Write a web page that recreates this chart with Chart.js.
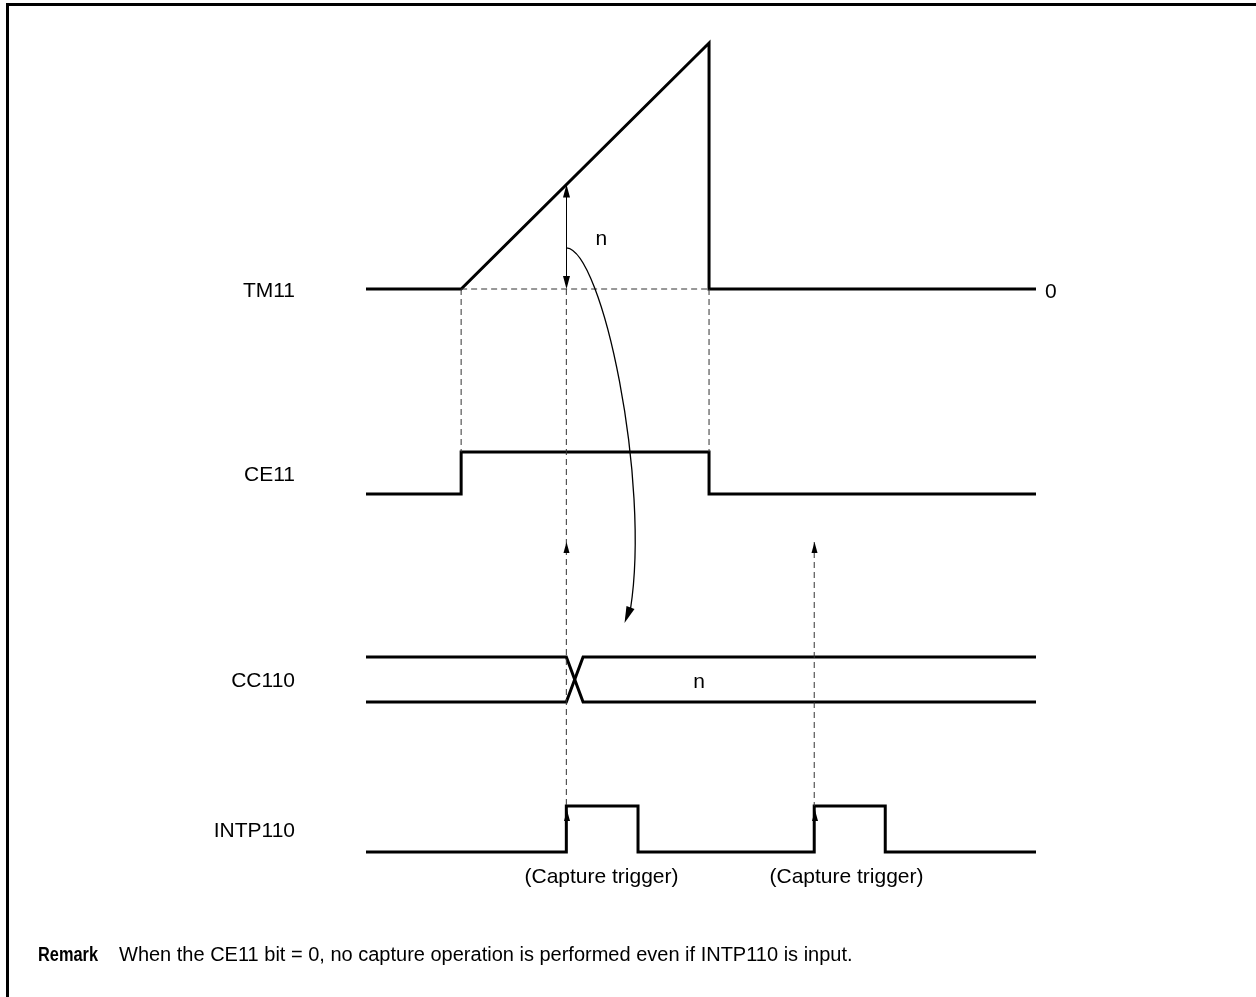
<!DOCTYPE html>
<html>
<head>
<meta charset="utf-8">
<script src="https://cdn.jsdelivr.net/npm/chart.js@4/dist/chart.umd.min.js"></script>
<style>
  html, body { margin: 0; padding: 0; background: #fff; overflow: hidden; }
  canvas { display: block; }
</style>
</head>
<body>
<canvas id="timing" width="1256" height="997"></canvas>
<script>
// signal names and transitions (time in timer clocks, level 0/1)
const signalNames = ["TM11", "CE11", "CC110", "INTP110"];

const tm11Time = [0, 14.2, 51.2, 51.2, 100];
const tm11Level = [0, 0, 1, 0, 0];

const ce11Time = [0, 14.2, 14.2, 51.2, 51.2, 100];
const ce11Level = [0, 0, 1, 1, 0, 0];

const cc110Time = [0, 29.9, 32.4, 100];
const cc110LevelA = [1, 1, 0, 0];
const cc110LevelB = [0, 0, 1, 1];

const intpTime = [0, 29.9, 29.9, 40.6, 40.6, 66.9, 66.9, 77.5, 77.5, 100];
const intpLevel = [0, 0, 1, 1, 0, 0, 1, 1, 0, 0];

const captureTimes = [29.9, 66.9];
const captureLabel = "(Capture trigger)";
const capturedValue = "n";
const zeroLabel = "0";
const remarkHead = "Remark";
const remarkText = "When the CE11 bit = 0, no capture operation is performed even if INTP110 is input.";

// row layout on the y axis (pixel units)
const rows = {
  TM11: { base: 289, amp: 246 },
  CE11: { base: 494, amp: 42 },
  CC110: { base: 702, amp: 45 },
  INTP110: { base: 852, amp: 46 }
};
const FONT = '"Liberation Sans", Arial, Helvetica, sans-serif';

function trace(ts, vs, row) {
  return ts.map(function (t, i) { return { x: t, y: row.base - vs[i] * row.amp }; });
}

function sig(data) {
  return { data: data, borderColor: "#000", borderWidth: 3, pointRadius: 0,
           borderJoinStyle: "miter", fill: false, tension: 0 };
}
function guide(data) {
  return { data: data, borderColor: "#333", borderWidth: 1, borderDash: [6, 4],
           pointRadius: 0, fill: false, tension: 0 };
}

var tmTop = rows.TM11.base;
var ceHigh = rows.CE11.base - rows.CE11.amp;
var intpHigh = rows.INTP110.base - rows.INTP110.amp;
var triggerArrowY = 542;

var datasets = [
  guide([{ x: tm11Time[1], y: tmTop }, { x: tm11Time[2], y: tmTop }]),
  guide([{ x: tm11Time[1], y: tmTop }, { x: tm11Time[1], y: ceHigh }]),
  guide([{ x: tm11Time[2], y: tmTop }, { x: tm11Time[2], y: ceHigh }]),
  guide([{ x: captureTimes[0], y: tmTop }, { x: captureTimes[0], y: intpHigh }]),
  guide([{ x: captureTimes[1], y: triggerArrowY }, { x: captureTimes[1], y: intpHigh }]),
  sig(trace(tm11Time, tm11Level, rows.TM11)),
  sig(trace(ce11Time, ce11Level, rows.CE11)),
  sig(trace(cc110Time, cc110LevelA, rows.CC110)),
  sig(trace(cc110Time, cc110LevelB, rows.CC110)),
  sig(trace(intpTime, intpLevel, rows.INTP110))
];

function head(ctx, x, y, dir, len, w) {
  // dir: 1 = pointing down, -1 = pointing up
  ctx.beginPath();
  ctx.moveTo(x, y);
  ctx.lineTo(x - w / 2, y - dir * len);
  ctx.lineTo(x + w / 2, y - dir * len);
  ctx.closePath();
  ctx.fill();
}

const annotate = {
  id: "annotate",
  afterDatasetsDraw: function (chart) {
    var ctx = chart.ctx, xs = chart.scales.x, ys = chart.scales.y;
    ctx.save();
    ctx.fillStyle = "#000";
    ctx.strokeStyle = "#000";

    // frame
    ctx.lineWidth = 3;
    ctx.beginPath();
    ctx.moveTo(7.5, 997);
    ctx.lineTo(7.5, 4.5);
    ctx.lineTo(1256, 4.5);
    ctx.stroke();

    // signal names
    ctx.font = "21px " + FONT;
    ctx.textAlign = "right";
    ctx.textBaseline = "middle";
    signalNames.forEach(function (name) {
      var r = rows[name];
      var yMid = name === "TM11" ? r.base + 2 : r.base - r.amp / 2 + 2;
      ctx.fillText(name, 295, yMid);
    });

    // "0" at end of TM11
    ctx.textAlign = "left";
    ctx.fillText(zeroLabel, xs.getPixelForValue(tm11Time[tm11Time.length - 1]) + 9, ys.getPixelForValue(rows.TM11.base) + 3);

    // captured value n on the ramp
    var cx = Math.round(xs.getPixelForValue(captureTimes[0])) + 0.5;
    var frac = (captureTimes[0] - tm11Time[1]) / (tm11Time[2] - tm11Time[1]);
    var yTop = ys.getPixelForValue(rows.TM11.base - frac * rows.TM11.amp);
    var yBot = ys.getPixelForValue(rows.TM11.base);
    ctx.lineWidth = 1;
    ctx.beginPath();
    ctx.moveTo(cx, yTop + 4);
    ctx.lineTo(cx, yBot - 4);
    ctx.stroke();
    head(ctx, cx, yTop, -1, 13, 7);
    head(ctx, cx, yBot, 1, 13, 7);
    ctx.fillText(capturedValue, cx + 29, (yTop + yBot) / 2 + 2);

    // curved arrow to CC110
    var sy = (yTop + yBot) / 2 + 11;
    var ex = cx + 58, ey = ys.getPixelForValue(rows.CC110.base - rows.CC110.amp) - 34;
    ctx.lineWidth = 1.3;
    ctx.beginPath();
    ctx.moveTo(cx, sy);
    ctx.bezierCurveTo(cx + 36, sy + 3, cx + 84, sy + 233, ex + 6, ey - 14);
    ctx.stroke();
    ctx.beginPath();
    ctx.moveTo(ex, ey);
    ctx.lineTo(ex + 2, ey - 17);
    ctx.lineTo(ex + 10, ey - 14);
    ctx.closePath();
    ctx.fill();

    // value n inside CC110
    ctx.textAlign = "center";
    ctx.fillText(capturedValue, xs.getPixelForValue(tm11Time[2]) - 10, ys.getPixelForValue(rows.CC110.base - rows.CC110.amp / 2) + 3);

    // capture trigger arrows and labels
    captureTimes.forEach(function (t, i) {
      var px = Math.round(xs.getPixelForValue(t)) + 0.5;
      head(ctx, px, triggerArrowY, -1, 11, 6);
      head(ctx, px + 0.5, ys.getPixelForValue(intpHigh) + 4, -1, 11, 6);
      ctx.fillText(captureLabel, px + (i === 0 ? 35 : 32), ys.getPixelForValue(rows.INTP110.base) + 25);
    });

    // remark
    ctx.textAlign = "left";
    ctx.font = "bold 20px " + FONT;
    ctx.fillText(remarkHead, 38, 955, 60);
    ctx.font = "20px " + FONT;
    ctx.fillText(remarkText, 119, 955);
    ctx.restore();
  }
};

// time axis: t = 0 sits at 366 px, t = 100 at 1036 px
var pxPerClock = 6.7;
new Chart(document.getElementById("timing"), {
  type: "line",
  data: { datasets: datasets },
  options: {
    responsive: false,
    animation: false,
    layout: { padding: 0 },
    plugins: { legend: { display: false }, tooltip: { enabled: false } },
    scales: {
      x: { type: "linear", min: -366 / pxPerClock, max: (1256 - 366) / pxPerClock, display: false },
      y: { type: "linear", min: 0, max: 997, reverse: true, display: false }
    }
  },
  plugins: [annotate]
});
</script>
</body>
</html>
